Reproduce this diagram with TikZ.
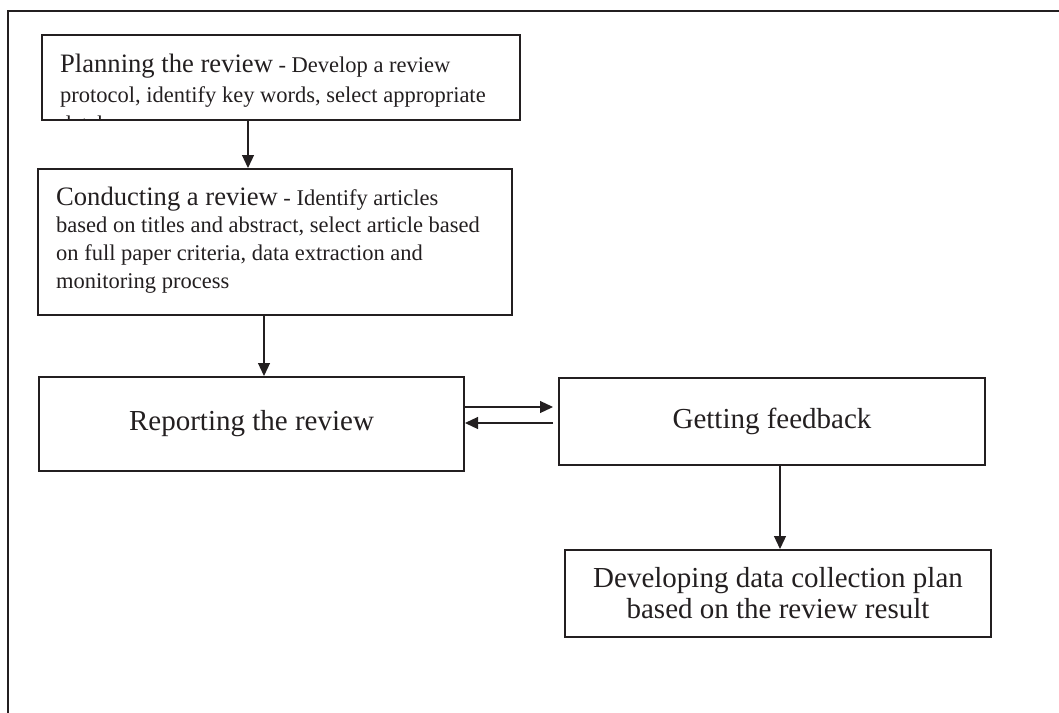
\documentclass[tikz,border=0pt]{standalone}
\usepackage{fontspec}
\setmainfont{Liberation Serif}
\usetikzlibrary{arrows.meta}
\definecolor{ink}{HTML}{231F20}
\begin{document}
\begin{tikzpicture}[x=1pt,y=-1pt,
  every node/.style={text=ink},
  box/.style={draw=ink, line width=2pt, inner sep=0pt},
  arr/.style={draw=ink, line width=1.2pt, -{Triangle[length=13pt,width=12pt]}},
  big/.style={font=\fontsize{29}{31}\selectfont}]
\useasboundingbox (0,0) rectangle (1059,712);
% outer frame (cropped at right and bottom)
\begin{scope}
  \clip (0,0) rectangle (1059,712);
  \draw[ink, line width=2.5pt] (1070,11) -- (8,11) -- (8,720);
\end{scope}
% boxes
\node[box, minimum width=478pt, minimum height=85pt] (plan) at (281,77.5) {};
\node[box, minimum width=474pt, minimum height=146pt] (cond) at (275,242) {};
\node[box, minimum width=425pt, minimum height=94pt, big] (rep) at (251.5,424) {Reporting the review};
\node[box, minimum width=426pt, minimum height=87pt, big] (get) at (772,421.5) {Getting feedback};
\node[box, minimum width=426pt, minimum height=87pt, big, align=center] (dev) at (778,593.5) {Developing data collection plan\\ based on the review result};
% texts of the upper boxes
\begin{scope}
  \clip (42,35) rectangle (520,120);
  \node[anchor=base west, inner sep=0pt] (plantext) at (60,72.5) {\parbox[t]{455pt}{\fontsize{22.5}{29.5}\selectfont\raggedright{\fontsize{26.6}{29.5}\selectfont Planning the review} - Develop a review\\ protocol, identify key words, select appropriate\\ databases}};
\end{scope}
\node[anchor=base west, inner sep=0pt] (condtext) at (56,205) {\parbox[t]{450pt}{\fontsize{22.5}{27.7}\selectfont\raggedright{\fontsize{26.6}{27.7}\selectfont Conducting a review} - Identify articles\\ based on titles and abstract, select article based\\ on full paper criteria, data extraction and\\ monitoring process}};
% connectors
\draw[arr] (plan.south -| 248,0) -- (cond.north -| 248,0);
\draw[arr] (cond.south -| 264,0) -- (rep.north -| 264,0);
\draw[arr, shorten >=5pt] (rep.east |- 0,407) -- (get.west |- 0,407);
\draw[arr, shorten <=5pt] (get.west |- 0,423) -- (rep.east |- 0,423);
\draw[arr] (get.south -| 780,0) -- (dev.north -| 780,0);
\end{tikzpicture}
\end{document}
